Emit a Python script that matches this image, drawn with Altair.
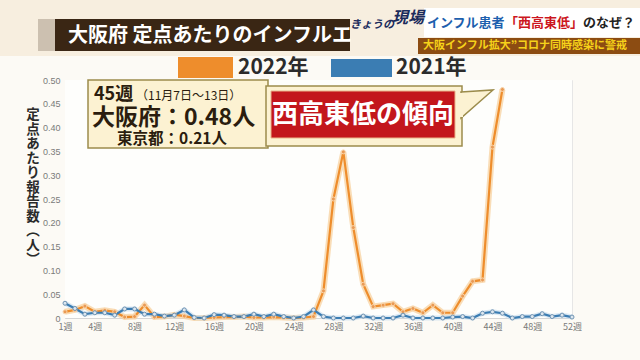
import altair as alt
import pandas as pd

# ---------------- data ----------------
weeks_2022 = list(range(1, 46))
osaka_2022 = [0.013, 0.017, 0.025, 0.013, 0.016, 0.013, 0.002, 0.003, 0.027, 0.002,
              0.003, 0.007, 0.004, 0.000, 0.000, 0.001, 0.002, 0.002, 0.003, 0.001,
              0.001, 0.002, 0.001, 0.000, 0.001, 0.003, 0.057, 0.250, 0.349, 0.190,
              0.071, 0.024, 0.027, 0.030, 0.013, 0.020, 0.011, 0.027, 0.011, 0.011,
              0.046, 0.077, 0.080, 0.359, 0.480]
weeks_2021 = list(range(1, 53))
osaka_2021 = [0.031, 0.020, 0.008, 0.011, 0.011, 0.006, 0.019, 0.019, 0.008, 0.008,
              0.004, 0.006, 0.017, 0.001, 0.000, 0.007, 0.006, 0.003, 0.003, 0.008,
              0.003, 0.008, 0.003, 0.000, 0.003, 0.017, 0.003, 0.000, 0.000, 0.000,
              0.004, 0.000, 0.000, 0.000, 0.006, 0.000, 0.000, 0.000, 0.000, 0.002,
              0.003, 0.000, 0.010, 0.013, 0.010, 0.000, 0.003, 0.003, 0.009, 0.003,
              0.006, 0.002]
series_names = ["2022年", "2021年"]
series_colors = ["#ee8d2c", "#3b7db3"]
x_ticks = [1, 4, 8, 12, 16, 20, 24, 28, 32, 36, 40, 44, 48, 52]
y_ticks = [0, 0.05, 0.10, 0.15, 0.20, 0.25, 0.30, 0.35, 0.40, 0.45, 0.50]
y_title_chars = ["定", "点", "あ", "た", "り", "報", "告", "数", "︵", "人", "︶"]

df22 = pd.DataFrame({"week": weeks_2022, "value": osaka_2022, "series": series_names[0]})
df21 = pd.DataFrame({"week": weeks_2021, "value": osaka_2021, "series": series_names[1]})

# ---------------- layout ----------------
W, H = 507, 238
OX, OY = 65, 80
FONT = "Noto Sans CJK JP"


def vx(x):
    return x - OX


def vy(y):
    return y - OY


dummy = pd.DataFrame({"a": [0]})


def rect(x1, y1, x2, y2, **kw):
    return alt.Chart(dummy).mark_rect(**kw).encode(
        x=alt.value(vx(x1)), x2=alt.value(vx(x2)),
        y=alt.value(vy(y1)), y2=alt.value(vy(y2)))


def text(s, x, y, **kw):
    kw.setdefault("font", FONT)
    return alt.Chart(dummy).mark_text(text=s, **kw).encode(
        x=alt.value(vx(x)), y=alt.value(vy(y)))


xenc = alt.X("week:Q", scale=alt.Scale(domain=[1, 52], nice=False, zero=False),
             axis=alt.Axis(values=x_ticks, labelExpr="datum.value + '週'", title=None,
                           grid=True, gridColor="#e6e6e6", domainColor="#d6d6d6",
                           ticks=False, labelColor="#7a7a7a", labelFontSize=9,
                           labelFont=FONT, labelPadding=4, labelFlush=False))
yenc = alt.Y("value:Q", scale=alt.Scale(domain=[0, 0.5], nice=False),
             axis=alt.Axis(values=y_ticks,
                           labelExpr="datum.value == 0 ? '0' : format(datum.value, '.2f')",
                           title=None, grid=True, gridColor="#e6e6e6", domainColor="#d6d6d6",
                           ticks=False, labelColor="#7a7a7a", labelFontSize=9,
                           labelFont="Liberation Sans", labelPadding=5))

plot_bg = rect(OX, OY, OX + W, OY + H, color="#fefefc")

l22_halo = alt.Chart(df22).mark_line(strokeWidth=6, color="#f7cf9a", opacity=0.7).encode(x=xenc, y=yenc)
l22 = alt.Chart(df22).mark_line(strokeWidth=2.2, color=series_colors[0]).encode(x=xenc, y=yenc)
p22 = alt.Chart(df22).mark_circle(size=16, color="#e99a55", stroke="#f9d5ac", strokeWidth=1, opacity=1).encode(x=xenc, y=yenc)
l21_halo = alt.Chart(df21).mark_line(strokeWidth=5, color="#c5dbec", opacity=0.6).encode(x=xenc, y=yenc)
l21 = alt.Chart(df21).mark_line(strokeWidth=2.2, color=series_colors[1]).encode(x=xenc, y=yenc)
p21 = alt.Chart(df21).mark_circle(size=16, fill="#dce7f0", stroke="#6f93b2", strokeWidth=1, opacity=1).encode(x=xenc, y=yenc)

# ---------------- header decorations ----------------
deco = [
    rect(0, 0, 640, 56, color="#f7eedf"),
    rect(38, 19, 56, 51, color="#7a6a5a", opacity=0.35),
    rect(55, 19, 350, 51, color="#3a2614"),
    text("大阪府 定点あたりのインフルエ", 68, 36, fontSize=20, fontWeight="bold",
         color="#ffffff", align="left", baseline="middle"),
    rect(424, 8, 640, 37, color="#ffffff"),
    text("インフル患者", 427, 23, fontSize=13, fontWeight="bold", color="#1d5fae",
         align="left", baseline="middle"),
    text("「西高東低」", 505, 23, fontSize=13, fontWeight="bold", color="#cc1620",
         align="left", baseline="middle"),
    text("のなぜ？", 583, 23, fontSize=13, fontWeight="bold", color="#222222",
         align="left", baseline="middle"),
    rect(418, 38, 640, 54, color="#8c4c12"),
    text("大阪インフル拡大”コロナ同時感染に警戒", 423, 46, fontSize=11, fontWeight="bold",
         color="#f6d21a", align="left", baseline="middle"),
    text("きょうの", 350, 25, fontSize=11, fontWeight="bold", fontStyle="italic",
         color="#1c2c5c", align="left", baseline="middle"),
    text("現場", 392, 18, fontSize=16, fontWeight="bold", fontStyle="italic",
         color="#1c2c5c", align="left", baseline="middle"),
    # legend
    rect(178, 57, 233, 78, color=series_colors[0]),
    text(series_names[0], 238, 68, fontSize=21, fontWeight="bold", color="#2b2b2b",
         align="left", baseline="middle"),
    rect(331, 59, 392, 77, color=series_colors[1]),
    text(series_names[1], 396, 68, fontSize=21, fontWeight="bold", color="#2b2b2b",
         align="left", baseline="middle"),
    # y title (vertical)
    alt.Chart(dummy).mark_text(text=y_title_chars, font=FONT, fontSize=13.5, fontWeight="bold",
                               lineHeight=14.5, color="#2a2a2a", align="center",
                               baseline="top").encode(x=alt.value(vx(33)), y=alt.value(vy(108))),
]

# ---------------- annotation boxes ----------------
BOX_FILL = "#fcf2d2"
BOX_STROKE = "#9c8c4c"
ptr = pd.DataFrame({"px": [vx(461), vx(493)], "py": [vy(92), vy(90)], "py2": [vy(118), vy(90)]})
notes = [
    rect(88, 80, 268, 148, color=BOX_FILL, stroke=BOX_STROKE, strokeWidth=1.5),
    text("45週", 94, 95, fontSize=18, fontWeight="bold", color="#2b1d0e",
         align="left", baseline="middle"),
    text("（11月7日〜13日）", 136, 96, fontSize=12, color="#2b1d0e",
         align="left", baseline="middle"),
    text("大阪府：0.48人", 92, 118, fontSize=23, fontWeight="bold", color="#2b1d0e",
         align="left", baseline="middle"),
    text("東京都：0.21人", 117, 139, fontSize=15.5, fontWeight="bold", color="#2b1d0e",
         align="left", baseline="middle"),
    rect(266, 86, 462, 146, color=BOX_FILL, stroke=BOX_STROKE, strokeWidth=1.5),
    alt.Chart(ptr).mark_area(color=BOX_FILL, stroke=BOX_STROKE, strokeWidth=1.5).encode(
        x=alt.X("px:Q", scale=None), y=alt.Y("py:Q", scale=None), y2="py2:Q"),
    rect(457, 93, 463, 117, color=BOX_FILL),
    rect(271, 91, 455, 138, color="#c3161c", stroke="#e9b48a", strokeWidth=1),
    text("西高東低の傾向", 363, 115, fontSize=26, fontWeight="bold", color="#ffffff",
         align="center", baseline="middle"),
]

chart = alt.layer(
    plot_bg, *deco[:1], l22_halo, l21_halo, l22, l21, p22, p21, *deco[1:], *notes
).properties(
    width=W, height=H,
    background="#fcfaf5",
    padding={"left": OX, "top": OY, "right": 640 - OX - W, "bottom": 360 - OY - H},
    autosize=alt.AutoSizeParams(type="none"),
).configure_view(stroke=None)

chart.save("out.html", embed_options={"renderer": "svg", "actions": False})
